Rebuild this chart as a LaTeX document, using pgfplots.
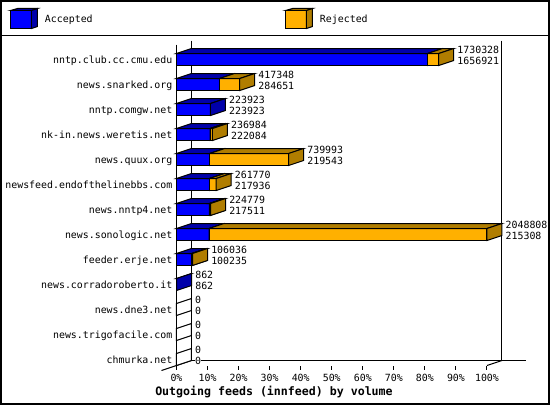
\documentclass[border=0pt]{standalone}
\usepackage{fontspec}
\setmainfont{DejaVu Sans Mono}
\usepackage{pgfplots}
\pgfplotsset{compat=1.18}

\definecolor{acc}{RGB}{0,0,255}
\definecolor{accd}{RGB}{0,0,170}
\definecolor{rej}{RGB}{255,176,0}
\definecolor{rejd}{RGB}{176,125,0}
\newcommand{\chfont}{\fontsize{9.9}{11}\selectfont}

% one filled polygon in axis coordinates
\newcommand{\face}[2]{%
  \edef\tmp{\noexpand\addplot[fill=#1,draw=black,line width=1pt] coordinates {#2} -- cycle;}\tmp}

% 15px deep = 98976 units, 5px up; #1 = front top row, #2 = first label, #3 = second label
\newcommand{\feedbar}[3]{%
  \def\t{#1}%
  \edef\b{\the\numexpr#1+12\relax}%
  \edef\tb{\the\numexpr#1-5\relax}%
  \edef\bb{\the\numexpr#1+7\relax}%
  \edef\aa{\the\numexpr#3+98976\relax}%
  \edef\rr{\the\numexpr#2+98976\relax}%
  \ifnum#2=0
    \face{white}{(0,\t)(98976,\tb)(98976,\bb)(0,\b)}%
  \else
    \face{acc}{(0,\t)(#3,\t)(#3,\b)(0,\b)}%
    \face{accd}{(0,\t)(#3,\t)(\aa,\tb)(98976,\tb)}%
    \face{accd}{(#3,\t)(\aa,\tb)(\aa,\bb)(#3,\b)}%
    \ifnum#2>#3
      \face{rej}{(#3,\t)(#2,\t)(#2,\b)(#3,\b)}%
      \face{rejd}{(#3,\t)(#2,\t)(\rr,\tb)(\aa,\tb)}%
      \face{rejd}{(#2,\t)(\rr,\tb)(\rr,\bb)(#2,\b)}%
    \fi
  \fi
  \edef\tmp{\noexpand\node[vlab] at (axis cs:\rr,\the\numexpr#1-3\relax) {#2};
    \noexpand\node[vlab] at (axis cs:\rr,\the\numexpr#1+8\relax) {#3};}\tmp
}

\begin{document}
\begin{tikzpicture}[vlab/.style={anchor=west,xshift=3.5pt,inner sep=0pt,fill=white,font=\chfont,text height=7pt,text depth=0.5pt}]
\begin{scope}[x=1pt,y=-1pt,xshift=-176.5pt,yshift=365.5pt]
\path[use as bounding box] (0,0) rectangle (550,405);
\end{scope}
\begin{axis}[
  scale only axis,
  width=310.5pt,
  height=321pt,
  xmin=0,xmax=2048808,
  ymin=44,ymax=365,
  y dir=reverse,
  clip=false,
  axis y line=left,
  axis x line=bottom,
  x axis line style={draw=none},
  y axis line style={-,line width=1pt},
  major tick length=4pt,
  tick align=outside,
  scaled x ticks=false,
  xtick={0,204881,409762,614642,819523,1024404,1229285,1434166,1639046,1843927,2048808},
  xticklabels={0\%,10\%,20\%,30\%,40\%,50\%,60\%,70\%,80\%,90\%,100\%},
  xtick style={line width=1pt,black},
  ytick={59,84,...,359},
  yticklabels={nntp.club.cc.cmu.edu,news.snarked.org,nntp.comgw.net,nk-in.news.weretis.net,news.quux.org,newsfeed.endofthelinebbs.com,news.nntp4.net,news.sonologic.net,feeder.erje.net,news.corradoroberto.it,news.dne3.net,news.trigofacile.com,chmurka.net},
  ytick style={draw=none},
  tick label style={font=\chfont,inner sep=0pt},
  x tick label style={yshift=-4.5pt},
  y tick label style={text height=7pt,text depth=0pt,yshift=-0.5pt},
  xlabel={Outgoing feeds (innfeed) by volume},
  xlabel style={at={(0.314,0)},anchor=center,yshift=-26.5pt,inner sep=0pt,font=\fontsize{11.6}{12}\selectfont\bfseries},
]
% back walls and floor
\addplot[black,line width=1pt] coordinates {(98976,40)(98976,360)(2306145,360)};
\addplot[black,line width=1pt] coordinates {(2147784,40)(2147784,360)};
\addplot[black,line width=1pt] coordinates {(-98976,370)(98976,360)};
\addplot[black,line width=1pt] coordinates {(2048808,365)(2147784,360)};

\feedbar{53}{1730328}{1656921}
\feedbar{78}{417348}{284651}
\feedbar{103}{223923}{223923}
\feedbar{128}{236984}{222084}
\feedbar{153}{739993}{219543}
\feedbar{178}{261770}{217936}
\feedbar{203}{224779}{217511}
\feedbar{228}{2048808}{215308}
\feedbar{253}{106036}{100235}
\feedbar{278}{862}{862}
\feedbar{303}{0}{0}
\feedbar{328}{0}{0}
\feedbar{353}{0}{0}
\end{axis}
% frame and legend
\begin{scope}[x=1pt,y=-1pt,xshift=-176.5pt,yshift=365.5pt,line width=1pt]
\draw[line width=2pt] (1,1) rectangle (549,404);
\draw (1,35.5) -- (549,35.5);
\filldraw[fill=acc] (10.5,10.5) rectangle (31.5,28.5);
\filldraw[fill=accd] (10.5,10.5) -- (17.5,8.5) -- (37.5,8.5) -- (31.5,10.5) -- cycle;
\filldraw[fill=accd] (31.5,10.5) -- (37.5,8.5) -- (37.5,26.5) -- (31.5,28.5) -- cycle;
\node[anchor=west,inner sep=0pt,font=\chfont] at (44.5,20) {Accepted};
\filldraw[fill=rej] (285.5,10.5) rectangle (306.5,28.5);
\filldraw[fill=rejd] (285.5,10.5) -- (292.5,8.5) -- (312.5,8.5) -- (306.5,10.5) -- cycle;
\filldraw[fill=rejd] (306.5,10.5) -- (312.5,8.5) -- (312.5,26.5) -- (306.5,28.5) -- cycle;
\node[anchor=west,inner sep=0pt,font=\chfont] at (319.5,20) {Rejected};
\end{scope}
\end{tikzpicture}
\end{document}
